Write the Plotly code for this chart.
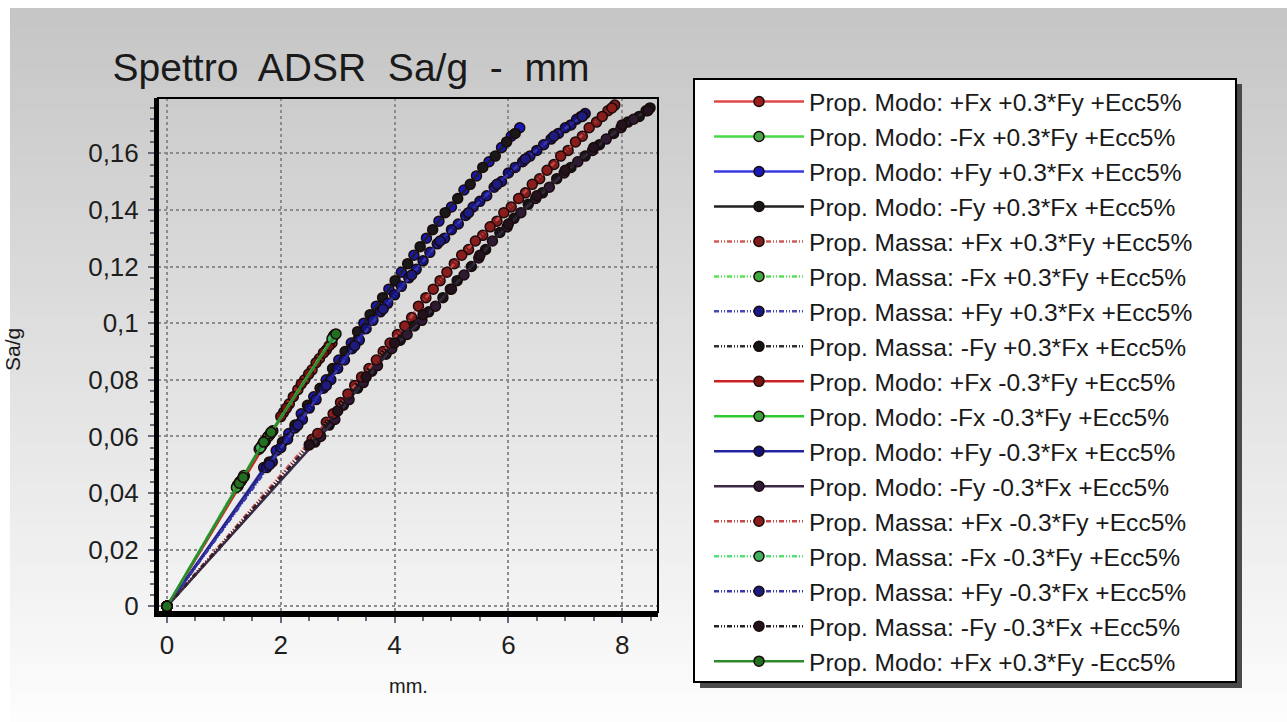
import plotly.graph_objects as go

# ---------------- data ----------------
NAMES = [
    "Prop. Modo: +Fx +0.3*Fy +Ecc5%",
    "Prop. Modo: -Fx +0.3*Fy +Ecc5%",
    "Prop. Modo: +Fy +0.3*Fx +Ecc5%",
    "Prop. Modo: -Fy +0.3*Fx +Ecc5%",
    "Prop. Massa: +Fx +0.3*Fy +Ecc5%",
    "Prop. Massa: -Fx +0.3*Fy +Ecc5%",
    "Prop. Massa: +Fy +0.3*Fx +Ecc5%",
    "Prop. Massa: -Fy +0.3*Fx +Ecc5%",
    "Prop. Modo: +Fx -0.3*Fy +Ecc5%",
    "Prop. Modo: -Fx -0.3*Fy +Ecc5%",
    "Prop. Modo: +Fy -0.3*Fx +Ecc5%",
    "Prop. Modo: -Fy -0.3*Fx +Ecc5%",
    "Prop. Massa: +Fx -0.3*Fy +Ecc5%",
    "Prop. Massa: -Fx -0.3*Fy +Ecc5%",
    "Prop. Massa: +Fy -0.3*Fx +Ecc5%",
    "Prop. Massa: -Fy -0.3*Fx +Ecc5%",
    "Prop. Modo: +Fx +0.3*Fy -Ecc5%",
]

S1_X = [0, 2.05, 2.15, 2.30, 2.42, 2.55, 2.68, 2.80, 2.90]
S1_Y = [0, 0.0685, 0.0715, 0.0765, 0.0800, 0.0835, 0.0875, 0.0905, 0.0930]
S2_X = [0, 1.25, 1.31, 1.36, 1.66, 1.73, 1.80, 1.86, 2.95]
S2_Y = [0, 0.0425, 0.0445, 0.0460, 0.0565, 0.0585, 0.0605, 0.0620, 0.0960]
S3_X = [0, 1.70, 1.92, 2.14, 2.36, 2.58, 2.80, 3.02, 3.24, 3.46, 3.68, 3.90, 4.12,
        4.34, 4.56, 4.78, 5.00, 5.22, 5.44, 5.66, 5.88, 6.05, 6.20]
S3_Y = [0, 0.049, 0.055, 0.061, 0.068, 0.074, 0.080, 0.087, 0.093, 0.100, 0.106, 0.112,
        0.118, 0.124, 0.130, 0.136, 0.141, 0.147, 0.152, 0.157, 0.162, 0.166, 0.169]
S4_X = [0, 1.80, 2.03, 2.25, 2.47, 2.69, 2.91, 3.13, 3.35, 3.57, 3.79, 4.01, 4.23,
        4.45, 4.67, 4.89, 5.11, 5.33, 5.55, 5.77, 5.97, 6.12]
S4_Y = [0, 0.051, 0.058, 0.064, 0.071, 0.077, 0.084, 0.090, 0.097, 0.103, 0.109, 0.115,
        0.121, 0.127, 0.133, 0.139, 0.144, 0.149, 0.155, 0.159, 0.164, 0.167]
S5_X = [0, 2.55, 2.80, 3.05, 3.30, 3.55, 3.80, 4.05, 4.30, 4.55, 4.80, 5.05, 5.30,
        5.55, 5.80, 6.05, 6.30, 6.55, 6.80, 7.05, 7.30, 7.55, 7.75, 7.87]
S5_Y = [0, 0.059, 0.065, 0.072, 0.078, 0.084, 0.090, 0.096, 0.102, 0.109, 0.115, 0.121,
        0.126, 0.131, 0.136, 0.141, 0.146, 0.151, 0.156, 0.161, 0.166, 0.171, 0.175, 0.177]
S6_X = [0, 1.24, 1.33, 1.68, 1.77, 1.85, 2.93]
S6_Y = [0, 0.0428, 0.0452, 0.0572, 0.0598, 0.0618, 0.0955]
S7_X = [0, 1.85, 2.12, 2.38, 2.62, 2.88, 3.12, 3.38, 3.62, 3.88, 4.12, 4.38, 4.62,
        4.88, 5.12, 5.38, 5.62, 5.88, 6.12, 6.38, 6.62, 6.88, 7.10, 7.28]
S7_Y = [0, 0.051, 0.059, 0.066, 0.073, 0.080, 0.087, 0.094, 0.101, 0.107, 0.113, 0.119,
        0.125, 0.130, 0.135, 0.141, 0.145, 0.150, 0.155, 0.159, 0.163, 0.167, 0.170, 0.173]
S8_X = [0, 2.60, 2.85, 3.10, 3.35, 3.60, 3.85, 4.10, 4.35, 4.60, 4.85, 5.10, 5.35,
        5.60, 5.85, 6.10, 6.35, 6.60, 6.85, 7.10, 7.35, 7.60, 7.85, 8.10, 8.30, 8.49]
S8_Y = [0, 0.058, 0.064, 0.071, 0.077, 0.083, 0.089, 0.094, 0.099, 0.104, 0.109, 0.115,
        0.120, 0.126, 0.132, 0.137, 0.142, 0.146, 0.151, 0.155, 0.159, 0.163, 0.167,
        0.171, 0.173, 0.176]
S9_X = [0, 2.00, 2.10, 2.22, 2.36, 2.49, 2.62, 2.75, 2.85]
S9_Y = [0, 0.0670, 0.0700, 0.0740, 0.0785, 0.0820, 0.0860, 0.0895, 0.0920]
S10_X = [0, 1.22, 1.28, 1.62, 1.70, 1.78, 2.92]
S10_Y = [0, 0.0420, 0.0440, 0.0555, 0.0578, 0.0600, 0.0950]
S11_X = [0, 1.75, 2.00, 2.25, 2.50, 2.75, 3.00, 3.25, 3.50, 3.75, 4.00, 4.25, 4.50,
         4.75, 5.00, 5.25, 5.50, 5.75, 6.00, 6.25, 6.50, 6.75, 7.00, 7.20, 7.35]
S11_Y = [0, 0.049, 0.056, 0.063, 0.070, 0.077, 0.084, 0.091, 0.098, 0.104, 0.110, 0.116,
         0.122, 0.128, 0.133, 0.138, 0.143, 0.148, 0.153, 0.157, 0.161, 0.165, 0.169,
         0.172, 0.174]
S12_X = [0, 2.70, 2.95, 3.20, 3.45, 3.70, 3.95, 4.22, 4.48, 4.72, 4.98, 5.22, 5.48,
         5.72, 5.98, 6.22, 6.48, 6.72, 6.98, 7.22, 7.48, 7.72, 7.98, 8.20, 8.42]
S12_Y = [0, 0.060, 0.066, 0.073, 0.079, 0.085, 0.091, 0.096, 0.101, 0.106, 0.112, 0.117,
         0.123, 0.129, 0.134, 0.139, 0.144, 0.148, 0.153, 0.157, 0.161, 0.165, 0.169,
         0.172, 0.175]
S13_X = [0, 2.65, 2.92, 3.18, 3.42, 3.68, 3.92, 4.18, 4.42, 4.68, 4.92, 5.18, 5.42,
         5.68, 5.92, 6.18, 6.42, 6.68, 6.92, 7.18, 7.42, 7.65, 7.82]
S13_Y = [0, 0.061, 0.068, 0.075, 0.081, 0.087, 0.093, 0.099, 0.106, 0.112, 0.118, 0.124,
         0.129, 0.134, 0.139, 0.144, 0.149, 0.154, 0.159, 0.164, 0.169, 0.173, 0.176]
S14_X = [0, 1.29, 1.35, 1.64, 1.72, 1.82, 2.90]
S14_Y = [0, 0.0440, 0.0462, 0.0560, 0.0582, 0.0610, 0.0945]
S15_X = [0, 1.80, 2.30, 2.80, 3.30, 3.80, 4.30, 4.80, 5.30, 5.80, 6.30, 6.80, 7.30]
S15_Y = [0, 0.050, 0.064, 0.078, 0.092, 0.105, 0.117, 0.129, 0.139, 0.149, 0.158, 0.166, 0.173]
S16_X = [0, 2.50, 3.00, 3.50, 4.00, 4.50, 5.00, 5.50, 6.00, 6.50, 7.00, 7.50, 8.00, 8.45]
S16_Y = [0, 0.057, 0.069, 0.081, 0.093, 0.103, 0.112, 0.124, 0.135, 0.145, 0.154, 0.162,
         0.170, 0.175]
S17_X = [0, 1.27, 1.34, 1.70, 1.83, 2.97]
S17_Y = [0, 0.0435, 0.0455, 0.0580, 0.0615, 0.0962]

SERIES_X = [S1_X, S2_X, S3_X, S4_X, S5_X, S6_X, S7_X, S8_X, S9_X, S10_X, S11_X, S12_X,
            S13_X, S14_X, S15_X, S16_X, S17_X]
SERIES_Y = [S1_Y, S2_Y, S3_Y, S4_Y, S5_Y, S6_Y, S7_Y, S8_Y, S9_Y, S10_Y, S11_Y, S12_Y,
            S13_Y, S14_Y, S15_Y, S16_Y, S17_Y]

X_TICKS = [0, 2, 4, 6, 8]
Y_TICKS = [0, 0.02, 0.04, 0.06, 0.08, 0.1, 0.12, 0.14, 0.16]

# ---------------- styles ----------------
LINE_COLORS = ["#e04848", "#48d848", "#3a3ae0", "#202020", "#d05a5a", "#58e058",
               "#4848b8", "#303030", "#c82424", "#30c830", "#2424a0", "#3a2a48",
               "#c84848", "#58e078", "#3838a8", "#282028", "#2e8a2e"]
MARKER_COLORS = ["#9a1c1c", "#48a848", "#1818b8", "#181818", "#801c1c", "#40a840",
                 "#181888", "#141414", "#781212", "#3aa03a", "#121278", "#2e1a36",
                 "#8a1c1c", "#40b060", "#1c1c80", "#22121e", "#207020"]
DD = "5px,2px,1px,2px,1px,2px"
DASH = ["solid", "solid", "solid", "solid", DD, DD, DD, DD,
        "solid", "solid", "solid", "solid", DD, DD, DD, DD, "solid"]

W, H = 1287, 722
L, R, T, B = 158, 658, 98, 612
PW, PH = R - L, B - T


def px_x(px):
    return (px - L) / PW


def px_y(py):
    return (B - py) / PH


fig = go.Figure()
for name, xs, ys, lc, mc, dash in zip(NAMES, SERIES_X, SERIES_Y, LINE_COLORS, MARKER_COLORS, DASH):
    fig.add_trace(go.Scatter(
        x=xs, y=ys, name=name, mode="lines+markers",
        line=dict(color=lc, width=2.5, dash=dash),
        marker=dict(symbol="circle", size=10, color=mc, line=dict(color="#1a0a0a", width=1.5)),
    ))

shapes = []
# background gradient (panel)
N = 72
top_px, bot_px = 8, 722
for i in range(N):
    y0 = top_px + (bot_px - top_px) * i / N
    y1 = top_px + (bot_px - top_px) * (i + 1) / N + 1
    t = i / (N - 1)
    g = int(198 + (253 - 198) * t)
    shapes.append(dict(type="rect", xref="paper", yref="paper", layer="below",
                       x0=px_x(10), x1=px_x(W + 2), y0=px_y(y1), y1=px_y(y0),
                       fillcolor=f"rgb({g},{g},{g})", line=dict(width=0)))
# thin frame top/right
shapes.append(dict(type="rect", xref="paper", yref="paper", layer="above",
                   x0=0, x1=1, y0=0, y1=1, line=dict(color="black", width=2)))
# legend shadow and box
LX0, LX1, LY0, LY1 = 694, 1236, 79, 682
shapes.append(dict(type="rect", xref="paper", yref="paper", layer="below",
                   x0=px_x(LX0 + 6), x1=px_x(LX1 + 6), y0=px_y(LY1 + 6), y1=px_y(LY0 + 5),
                   fillcolor="#4a4a4a", line=dict(width=0)))
shapes.append(dict(type="rect", xref="paper", yref="paper", layer="below",
                   x0=px_x(LX0), x1=px_x(LX1), y0=px_y(LY1), y1=px_y(LY0),
                   fillcolor="white", line=dict(color="black", width=2)))

fig.update_layout(
    width=W, height=H,
    margin=dict(l=L, r=W - R, t=T, b=H - B, pad=0),
    paper_bgcolor="white", plot_bgcolor="rgba(0,0,0,0)",
    separators=",.",
    font=dict(family="Liberation Sans, Arial, sans-serif", color="#1e1e1e"),
    title=dict(text="Spettro\u00a0 ADSR\u00a0 Sa/g\u00a0 -\u00a0 mm", x=351 / W, xanchor="center",
               y=1 - 67 / H, yanchor="middle", xref="container", yref="container",
               font=dict(size=39, color="#1a1a1a")),
    shapes=shapes,
    showlegend=True,
    legend=dict(x=px_x(709), xanchor="left", y=px_y(LY0), yanchor="top",
                bgcolor="rgba(0,0,0,0)", borderwidth=0, itemwidth=90, maxheight=720,
                font=dict(size=24.6, color="#1a1a1a"), tracegroupgap=0),
    annotations=[
        dict(text="mm.", xref="paper", yref="paper", x=px_x(408), y=px_y(686),
             showarrow=False, font=dict(size=20, color="#1a1a1a"), xanchor="center", yanchor="middle"),
        dict(text="Sa/g", xref="paper", yref="paper", x=px_x(12), y=px_y(350),
             showarrow=False, textangle=-90, font=dict(size=21, color="#1a1a1a"),
             xanchor="center", yanchor="middle"),
    ],
)

fig.update_xaxes(
    range=[-0.158, 8.63], tickvals=X_TICKS, ticktext=[str(v) for v in X_TICKS],
    showline=True, linecolor="black", linewidth=5, mirror=False,
    showgrid=True, gridcolor="#8c8c8c", griddash="dot", gridwidth=1.5, zeroline=False,
    ticks="outside", ticklen=6, tickwidth=1.5, tickcolor="#6a6a7a",
    tickfont=dict(size=26, color="#1e1e1e"),
    minor=dict(dtick=0.5, ticks="outside", ticklen=4, tickcolor="#6a6a7a", showgrid=False),
)
fig.update_yaxes(
    range=[-0.002, 0.1795], tickvals=Y_TICKS,
    showline=True, linecolor="black", linewidth=4, mirror=False,
    showgrid=True, gridcolor="#8c8c8c", griddash="dot", gridwidth=1.5, zeroline=False,
    ticks="outside", ticklen=6, tickwidth=1.5, tickcolor="#6a6a7a", ticklabelstandoff=4,
    tickfont=dict(size=26, color="#1e1e1e"),
    minor=dict(dtick=0.004, ticks="outside", ticklen=4, tickcolor="#6a6a7a", showgrid=False),
)

fig.write_html("out.html", config={"displayModeBar": False},
               post_script="document.body.style.margin='0';document.body.style.overflow='hidden';")
